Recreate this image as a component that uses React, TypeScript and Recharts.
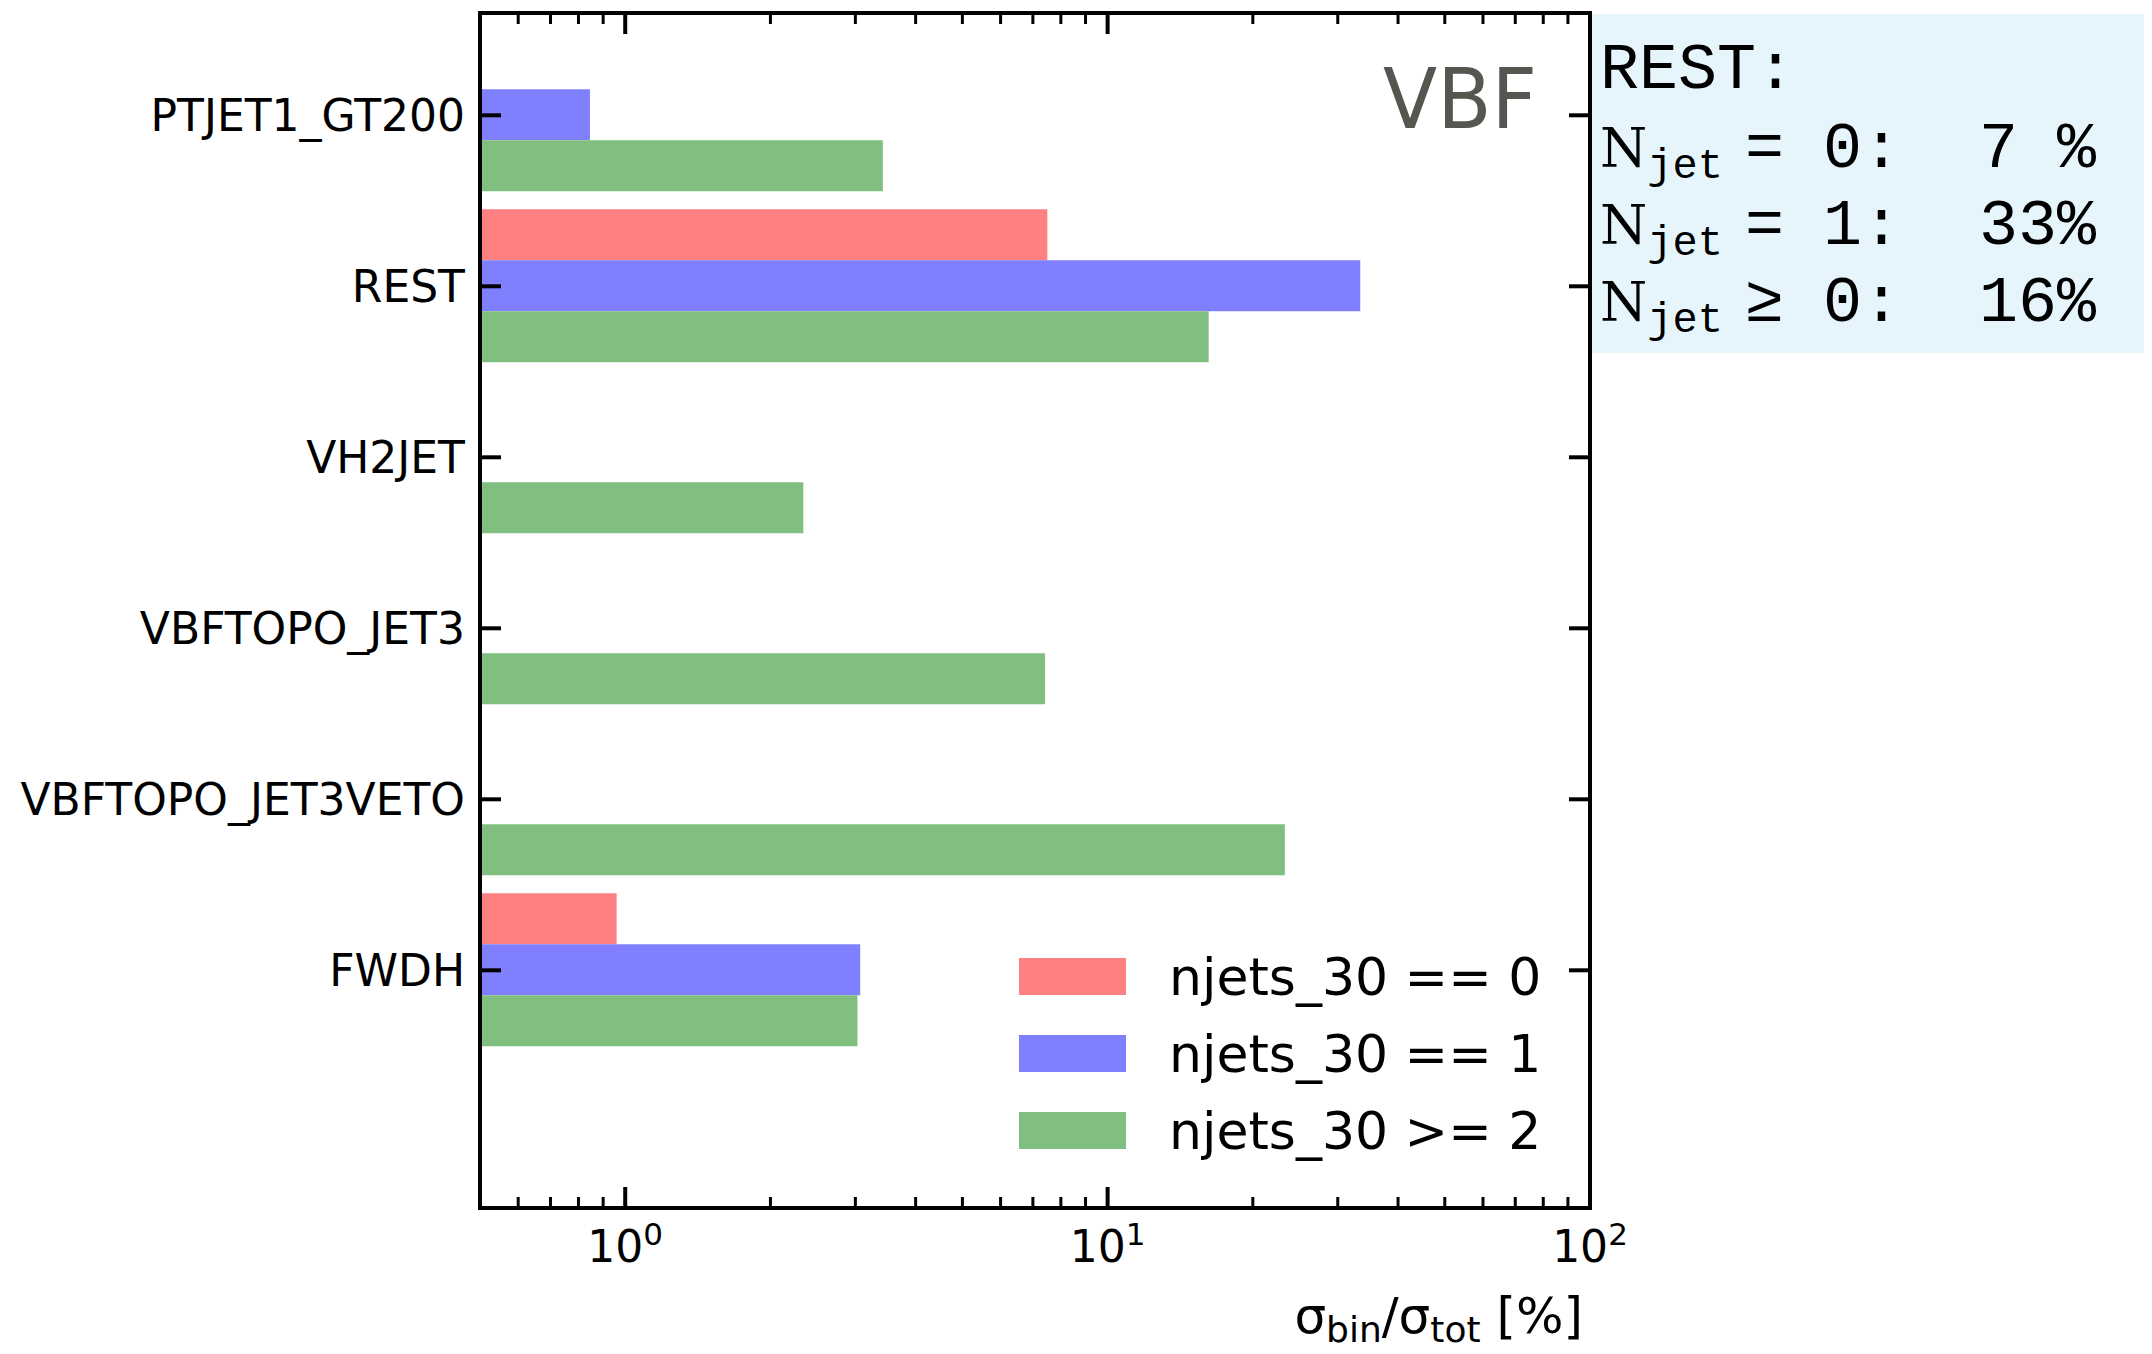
import React from 'react';
import { BarChart, Bar, XAxis, YAxis, Legend } from 'recharts';

// ---- data ----
const categories = ['PTJET1_GT200', 'REST', 'VH2JET', 'VBFTOPO_JET3', 'VBFTOPO_JET3VETO', 'FWDH'];
const njets0: (number | null)[] = [null, 7.5, null, null, null, 0.96];
const njets1: (number | null)[] = [0.845, 33.4, null, null, null, 3.07];
const njets2: (number | null)[] = [3.42, 16.2, 2.34, 7.42, 23.3, 3.03];

const seriesKeys = ['n0', 'n1', 'n2'];
const seriesNames = ['njets_30 == 0', 'njets_30 == 1', 'njets_30 >= 2'];
const seriesColors = ['#ff8080', '#8080ff', '#80bf80'];

const xDomain = [0.5, 100];
const xMajorTicks = [1, 10, 100];
const xExponents = ['0', '1', '2'];
const xMinorTicks = [0.6, 0.7, 0.8, 0.9, 2, 3, 4, 5, 6, 7, 8, 9, 20, 30, 40, 50, 60, 70, 80, 90];
const xAllTicks = [...xMinorTicks, ...xMajorTicks].sort((a, b) => a - b);

const boxTitle = 'REST:';
const boxRel = ['=', '=', '≥'];
const boxN = ['0', '1', '0'];
const boxPct = ['7 %', '33%', '16%'];

const data = categories.map((name, i) => ({ name, n0: njets0[i], n1: njets1[i], n2: njets2[i] }));

const FONT = 'DejaVu Sans, sans-serif';
const MONO = 'Liberation Mono, Courier New, monospace';

const XTickBottom = (props: any) => {
  const { x, y, payload } = props;
  const mi = xMajorTicks.indexOf(payload.value);
  const major = mi >= 0;
  return (
    <g>
      <line x1={x} x2={x} y1={y} y2={y - (major ? 21 : 11)} stroke="#000" strokeWidth={major ? 4 : 3} />
      {major && (
        <text x={x} y={y + 54} textAnchor="middle" fontFamily={FONT} fontSize={44} fill="#000">
          10<tspan dy={-17} fontSize={31}>{xExponents[mi]}</tspan>
        </text>
      )}
    </g>
  );
};

const XTickTop = (props: any) => {
  const { x, y, payload } = props;
  const major = xMajorTicks.indexOf(payload.value) >= 0;
  return <line x1={x} x2={x} y1={y} y2={y + (major ? 21 : 11)} stroke="#000" strokeWidth={major ? 4 : 3} />;
};

const YTickLeft = (props: any) => {
  const { x, y, payload } = props;
  return (
    <g>
      <line x1={x} x2={x + 21} y1={y} y2={y} stroke="#000" strokeWidth={4} />
      <text x={x - 15} y={y + 16} textAnchor="end" fontFamily={FONT} fontSize={44} fill="#000">
        {payload.value}
      </text>
    </g>
  );
};

const YTickRight = (props: any) => {
  const { x, y } = props;
  return <line x1={x} x2={x - 21} y1={y} y2={y} stroke="#000" strokeWidth={4} />;
};

const LegendContent = () => (
  <div style={{ fontFamily: FONT, fontSize: 52, color: '#000' }}>
    {seriesNames.map((n, i) => (
      <div key={n} style={{ display: 'flex', alignItems: 'center', height: 77 }}>
        <div style={{ width: 107, height: 37, background: seriesColors[i], marginRight: 43 }} />
        <span style={{ lineHeight: 1, whiteSpace: 'pre' }}>{n}</span>
      </div>
    ))}
  </div>
);

const axisLine = { stroke: '#000', strokeWidth: 4, strokeLinecap: 'square' as const };
const yPadding = { top: 16.8, bottom: 152.2 };

export default function App() {
  return (
    <div style={{ position: 'absolute', left: 0, top: 0, width: 2152, height: 1354, background: '#fff' }}>
      <BarChart
        width={2152}
        height={1354}
        data={data}
        layout="vertical"
        barCategoryGap="5%"
        barGap={0}
        margin={{ top: 12, right: 561, bottom: 0, left: 0 }}
      >
        <XAxis
          type="number"
          scale="log"
          domain={xDomain}
          allowDataOverflow
          ticks={xAllTicks}
          interval={0}
          tickSize={0}
          tickMargin={0}
          tickLine={false}
          axisLine={axisLine}
          height={146}
          tick={<XTickBottom />}
        />
        <XAxis
          xAxisId="top"
          orientation="top"
          type="number"
          scale="log"
          domain={xDomain}
          allowDataOverflow
          ticks={xAllTicks}
          interval={0}
          tickSize={0}
          tickMargin={0}
          tickLine={false}
          axisLine={axisLine}
          height={1}
          tick={<XTickTop />}
        />
        <YAxis
          type="category"
          dataKey="name"
          width={480}
          padding={yPadding}
          interval={0}
          tickSize={0}
          tickMargin={0}
          tickLine={false}
          axisLine={axisLine}
          tick={<YTickLeft />}
        />
        <YAxis
          yAxisId="right"
          orientation="right"
          type="category"
          dataKey="name"
          width={1}
          padding={yPadding}
          interval={0}
          tickSize={0}
          tickMargin={0}
          tickLine={false}
          axisLine={axisLine}
          tick={<YTickRight />}
        />
        {seriesKeys.map((k, i) => (
          <Bar key={k} dataKey={k} name={seriesNames[i]} fill={seriesColors[i]} isAnimationActive={false} />
        ))}
        <Legend
          layout="vertical"
          align="center"
          verticalAlign="middle"
          content={<LegendContent />}
          wrapperStyle={{ left: 1019, top: 938, width: 'auto', height: 'auto' }}
        />
      </BarChart>
      <svg
        width={2152}
        height={1354}
        style={{ position: 'absolute', left: 0, top: 0, pointerEvents: 'none' }}
      >
        <text
          x={1537}
          y={128}
          textAnchor="end"
          fontFamily={FONT}
          fontSize={84}
          fill="#575550"
          textLength={154}
          lengthAdjust="spacingAndGlyphs"
        >
          VBF
        </text>
        <text x={1583} y={1333} textAnchor="end" fontFamily={FONT} fontSize={50} fill="#000">
          σ<tspan fontSize={36} dy={9}>bin</tspan>
          <tspan dy={-9}>/σ</tspan>
          <tspan fontSize={36} dy={9}>tot</tspan>
          <tspan dy={-9}>{' [%]'}</tspan>
        </text>
        <rect x={1592} y={14} width={552} height={339} fill="#e6f5fc" />
        <text x={1600} y={88} fontFamily={MONO} fontSize={65} fill="#000">
          {boxTitle}
        </text>
        {boxRel.map((r, i) => (
          <g key={i}>
            <text x={1600} y={167 + 77 * i} fill="#000">
              <tspan fontFamily="DejaVu Serif, serif" fontSize={54}>N</tspan>
              <tspan fontFamily={MONO} fontSize={42} dy={11}>jet</tspan>
            </text>
            <text x={1745} y={167 + 77 * i} fontFamily={MONO} fontSize={65} fill="#000" style={{ whiteSpace: 'pre' }}>
              {`${r} ${boxN[i]}:  ${boxPct[i]}`}
            </text>
          </g>
        ))}
      </svg>
    </div>
  );
}
